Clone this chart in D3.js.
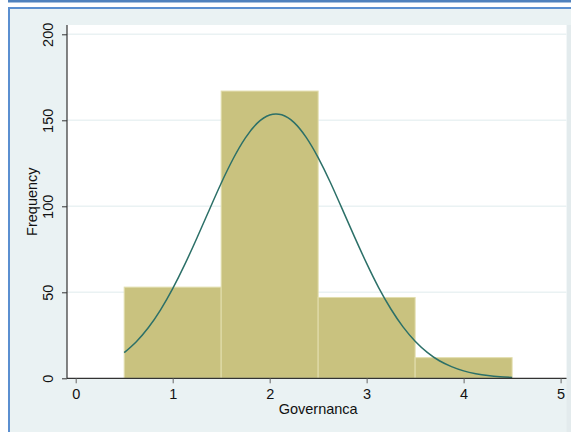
<!DOCTYPE html>
<html><head><meta charset="utf-8">
<script src="https://cdn.jsdelivr.net/npm/d3@7"></script>
<style>html,body{margin:0;padding:0;background:#fff;}svg{display:block;}</style>
</head><body>
<svg id="c" width="571" height="432"></svg>
<script>
// Histogram bins (bin centers) and frequencies
const binCenters = [1, 2, 3, 4];
const frequencies = [53, 167, 47, 12];
const binWidth = 1;
// Fitted normal curve
const curveX = [0.5,0.625,0.75,0.875,1,1.125,1.25,1.375,1.5,1.625,1.75,1.875,2,2.125,2.25,2.375,2.5,2.625,2.75,2.875,3,3.125,3.25,3.375,3.5,3.625,3.75,3.875,4,4.125,4.25,4.375,4.5];
const curveY = [14.9,21.3,29.5,39.8,52.1,66.2,81.6,97.6,113.4,127.8,139.8,148.5,153.1,153.2,148.8,140.2,128.3,114.0,98.2,82.2,66.8,52.6,40.3,29.9,21.6,15.1,10.2,6.8,4.3,2.7,1.6,0.9,0.5];
const xTicks = [0,1,2,3,4,5];
const yTicks = [0,50,100,150,200];
const xTitle = "Governanca";
const yTitle = "Frequency";

(function(){
const svg = d3.select("#c");
const font = "Arial, 'Liberation Sans', sans-serif";

// outer frame
svg.append("rect").attr("x",8).attr("y",0).attr("width",563).attr("height",2.5).attr("fill","#4f81bd");
svg.append("rect").attr("x",8).attr("y",8).attr("width",563).attr("height",424).attr("fill","#eaf2f3");
svg.append("rect").attr("x",8).attr("y",7).attr("width",563).attr("height",2).attr("fill","#5b8fd0");
svg.append("rect").attr("x",8).attr("y",7).attr("width",2).attr("height",425).attr("fill","#5b8fd0");
svg.append("rect").attr("x",566.5).attr("y",25).attr("width",4.5).attr("height",407).attr("fill","#e3ebed");

// plot region
const pL = 67, pR = 566.5, pT = 25, pB = 378.3;
svg.append("rect").attr("x",pL).attr("y",pT).attr("width",pR-pL).attr("height",pB-pT).attr("fill","#fff");

const x = d3.scaleLinear().domain([0,5]).range([75.7,560.6]);
const y = d3.scaleLinear().domain([0,200]).range([378.3,34.3]);

// gridlines
svg.append("g").selectAll("line").data(yTicks.filter(d=>d>0)).join("line")
  .attr("x1",pL).attr("x2",pR).attr("y1",d=>y(d)).attr("y2",d=>y(d))
  .attr("stroke","#eaf2f3").attr("stroke-width",1.6);

// bars
svg.append("g").selectAll("rect").data(binCenters).join("rect")
  .attr("x",(d)=>x(d-binWidth/2))
  .attr("width",(d)=>x(d+binWidth/2)-x(d-binWidth/2))
  .attr("y",(d,i)=>y(frequencies[i]))
  .attr("height",(d,i)=>y(0)-y(frequencies[i]))
  .attr("fill","#c9c27f").attr("stroke","#e2deae").attr("stroke-width",1);

// normal curve
const line = d3.line().x((d,i)=>x(curveX[i])).y(d=>y(d)).curve(d3.curveNatural);
svg.append("path").attr("d",line(curveY)).attr("fill","none")
  .attr("stroke","#2c7068").attr("stroke-width",1.5);

// y axis
const yAxis = svg.append("g").attr("transform",`translate(${pL},0)`)
  .call(d3.axisLeft(y).tickValues(yTicks).tickSize(5).tickFormat(d3.format("d")));
yAxis.select(".domain").attr("d",`M0,${pT}V${pB}`).attr("stroke","#333").attr("stroke-width",1.2);
yAxis.selectAll(".tick line").attr("stroke","#333");
yAxis.selectAll(".tick text").attr("font-family",font).attr("font-size",14.5).attr("fill","#111")
  .attr("text-anchor","middle").attr("x",0).attr("dy","0")
  .attr("transform","translate(-14,0) rotate(-90)");

// x axis
const xAxis = svg.append("g").attr("transform",`translate(0,${pB})`)
  .call(d3.axisBottom(x).tickValues(xTicks).tickSize(5).tickFormat(d3.format("d")));
xAxis.select(".domain").attr("d",`M${pL},0H${pR}`).attr("stroke","#333").attr("stroke-width",1.2);
xAxis.selectAll(".tick line").attr("stroke","#666");
xAxis.selectAll(".tick text").attr("font-family",font).attr("font-size",14.5).attr("fill","#111")
  .attr("y",10).attr("dy","0.71em");

// titles
svg.append("text").attr("x",x(2.5)).attr("y",414).attr("text-anchor","middle")
  .attr("font-family",font).attr("font-size",14.5).attr("fill","#111").text(xTitle);
svg.append("text").attr("transform",`translate(37,${(pT+pB)/2}) rotate(-90)`)
  .attr("text-anchor","middle").attr("font-family",font).attr("font-size",14.5).attr("fill","#111").text(yTitle);
})();
</script>
</body></html>
